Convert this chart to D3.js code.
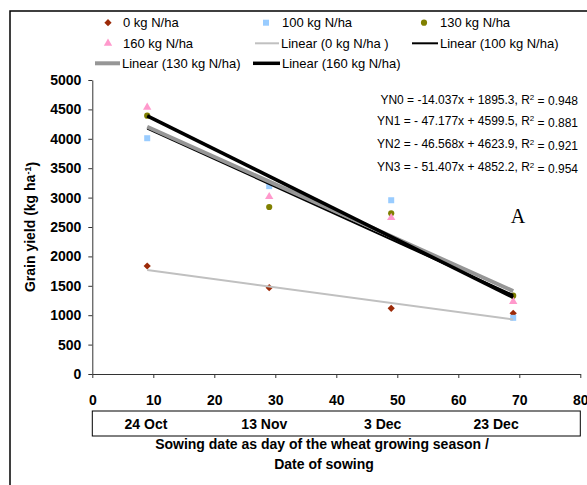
<!DOCTYPE html>
<html>
<head>
<meta charset="utf-8">
<script src="https://cdn.jsdelivr.net/npm/d3@7"></script>
<style>
  html, body { margin: 0; padding: 0; background: #fff; }
  svg { display: block; }
</style>
</head>
<body>
<svg id="chart" width="587" height="485"></svg>
<script>
// ---- data ----
const days = [9, 29, 49, 69];
const seriesNames = ["0 kg N/ha", "100 kg N/ha", "130 kg N/ha", "160 kg N/ha"];
const yield0 = [1837, 1468, 1117, 1032];
const yield100 = [4010, 3195, 2955, 955];
const yield130 = [4393, 2840, 2733, 1332];
const yield160 = [4536, 3015, 2658, 1230];
const trendNames = ["Linear (0 kg N/ha )", "Linear (100 kg N/ha)", "Linear (130 kg N/ha)", "Linear (160 kg N/ha)"];
const slopes = [-14.037, -47.177, -46.568, -51.407];
const intercepts = [1895.3, 4599.5, 4623.9, 4852.2];
const r2 = [0.948, 0.881, 0.921, 0.954];
const eqLabels = ["YN0 = -14.037x + 1895.3, R", "YN1 = - 47.177x + 4599.5, R", "YN2 = - 46.568x + 4623.9, R", "YN3 = - 51.407x + 4852.2, R"];
const xTicks = [0, 10, 20, 30, 40, 50, 60, 70, 80];
const yTicks = [0, 500, 1000, 1500, 2000, 2500, 3000, 3500, 4000, 4500, 5000];
const dateLabels = ["24 Oct", "13 Nov", "3 Dec", "23 Dec"];
const dateLabelDays = [8.8, 28.2, 47.6, 66.2];

// ---- styles ----
const markerColors = ["#9c2a08", "#99ccff", "#808000", "#ff99cc"];
const trendColors = ["#c0c0c0", "#000000", "#969696", "#000000"];
const trendWidths = [2, 2, 4, 3.5];
const font = "'Liberation Sans', Arial, sans-serif";

const svg = d3.select("#chart");
const x = d3.scaleLinear().domain([0, 80]).range([92.3, 580.3]);
const y = d3.scaleLinear().domain([0, 5000]).range([374, 80]);

// outer border
svg.append("rect").attr("x", 10).attr("y", 11).attr("width", 620).attr("height", 520)
  .attr("fill", "none").attr("stroke", "#000").attr("stroke-width", 1.5);

// axes
const yAxis = svg.append("g").attr("transform", `translate(${x(0)},0)`)
  .call(d3.axisLeft(y).tickValues(yTicks).tickSize(4).tickSizeOuter(0).tickPadding(7).tickFormat(d3.format("d")));
const xAxis = svg.append("g").attr("transform", `translate(0,${y(0)})`)
  .call(d3.axisBottom(x).tickValues(xTicks).tickSize(4).tickSizeOuter(0).tickPadding(17).tickFormat(d3.format("d")));
[yAxis, xAxis].forEach(g => {
  g.select(".domain").attr("stroke", "#333").attr("stroke-width", 1);
  g.selectAll(".tick line").attr("stroke", "#333");
  g.selectAll(".tick text").attr("fill", "#000").style("font-family", font)
    .style("font-size", "14px").style("font-weight", "bold");
});

// markers
const allSeries = [yield0, yield100, yield130, yield160];
const symTypes = [d3.symbolSquare, d3.symbolSquare, d3.symbolCircle, d3.symbolTriangle];
const symSizes = [26, 36, 30, 30];
const symRot = [45, 0, 0, 0];
function drawSymbol(g, i, cx, cy) {
  g.append("path")
    .attr("d", d3.symbol().type(symTypes[i]).size(symSizes[i])())
    .attr("transform", `translate(${cx},${cy}) rotate(${symRot[i]})`)
    .attr("fill", markerColors[i]);
}
const pts = svg.append("g");
allSeries.forEach((vals, i) => {
  vals.forEach((v, j) => drawSymbol(pts, i, x(days[j]), y(v)));
});

// trend lines
const tl = svg.append("g");
slopes.forEach((s, i) => {
  const x0 = d3.min(days), x1 = d3.max(days);
  tl.append("line")
    .attr("x1", x(x0)).attr("y1", y(s * x0 + intercepts[i]))
    .attr("x2", x(x1)).attr("y2", y(s * x1 + intercepts[i]))
    .attr("stroke", trendColors[i]).attr("stroke-width", trendWidths[i]);
});

// equations
const eqY = [99.3, 120.7, 144, 167];
eqLabels.forEach((t, i) => {
  const tx = svg.append("text").attr("x", 578).attr("y", eqY[i]).attr("dy", "0.35em")
    .attr("text-anchor", "end").style("font-family", font).style("font-size", "12px");
  tx.append("tspan").text(t);
  tx.append("tspan").attr("dy", "-0.45em").style("font-size", "8px").text("2");
  tx.append("tspan").attr("dy", "0.45em").text(" = " + r2[i].toFixed(3));
});

// "A" label
svg.append("text").attr("x", 518).attr("y", 223).attr("text-anchor", "middle")
  .style("font-family", "'Liberation Serif', 'Times New Roman', serif").style("font-size", "20px").text("A");

// legend
const leg = svg.append("g").style("font-family", font).style("font-size", "13px");
const rowY = [22.7, 43.3, 63.3];
const colSym = [108, 266, 424];
const colText = [123, 282, 440];
// items in Excel legend order
const legendItems = [
  {type: "m", i: 0}, {type: "m", i: 1}, {type: "m", i: 2},
  {type: "m", i: 3}, {type: "l", i: 0}, {type: "l", i: 1},
  {type: "l", i: 2}, {type: "l", i: 3}
];
const lineStart = [[0, 0, 0], [0, 255, 412], [95, 253, 0]];
const lineEnd = [[0, 0, 0], [0, 279, 438], [120, 280, 0]];
legendItems.forEach((it, k) => {
  const r = Math.floor(k / 3), c = k % 3;
  const cy = rowY[r];
  let tx = colText[c];
  if (it.type === "m") {
    drawSymbol(leg, it.i, colSym[c], cy);
    leg.append("text").attr("x", tx).attr("y", cy).attr("dy", "0.35em").text(seriesNames[it.i]);
  } else {
    leg.append("line").attr("x1", lineStart[r][c]).attr("x2", lineEnd[r][c])
      .attr("y1", cy).attr("y2", cy)
      .attr("stroke", trendColors[it.i]).attr("stroke-width", trendWidths[it.i]);
    tx = lineEnd[r][c] + 2;
    leg.append("text").attr("x", tx).attr("y", cy).attr("dy", "0.35em").text(trendNames[it.i]);
  }
});

// date box
svg.append("rect").attr("x", x(0)).attr("y", 411).attr("width", x(80) - x(0)).attr("height", 25)
  .attr("fill", "none").attr("stroke", "#000").attr("stroke-width", 1);
svg.append("g").selectAll("text").data(dateLabels).join("text")
  .attr("x", (d, i) => x(dateLabelDays[i])).attr("y", 429).attr("text-anchor", "middle")
  .style("font-family", font).style("font-size", "14px").style("font-weight", "bold").text(d => d);

// axis titles
const xt = svg.append("text").attr("text-anchor", "middle")
  .style("font-family", font).style("font-size", "14px").style("font-weight", "bold");
xt.append("tspan").attr("x", 322).attr("y", 449).text("Sowing date as day of the wheat growing season /");
xt.append("tspan").attr("x", 324).attr("y", 469).text("Date of sowing");

const yt = svg.append("text").attr("transform", `translate(35,${(y(0) + y(5000)) / 2}) rotate(-90)`)
  .attr("text-anchor", "middle")
  .style("font-family", font).style("font-size", "14px").style("font-weight", "bold");
yt.append("tspan").text("Grain yield (kg ha");
yt.append("tspan").attr("dy", "-0.45em").style("font-size", "9px").text("-1");
yt.append("tspan").attr("dy", "0.45em").text(")");
</script>
</body>
</html>
